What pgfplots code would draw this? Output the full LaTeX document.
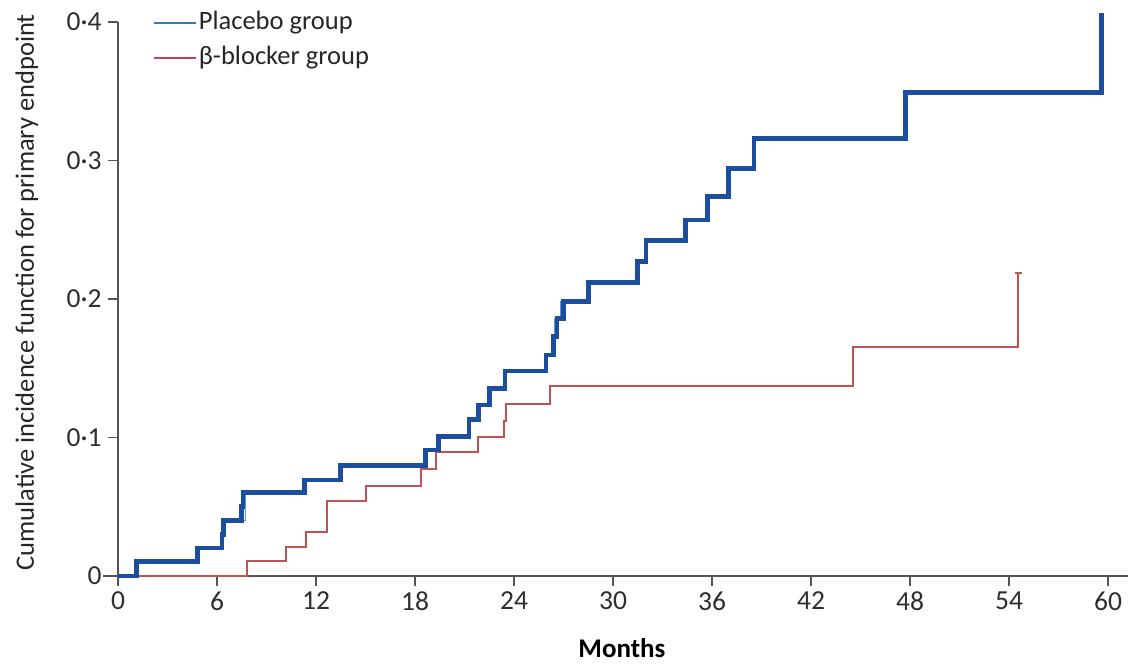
\documentclass[border=0pt]{standalone}
\usepackage{fontspec}
\setmainfont{Carlito}
\usepackage{pgfplots}
\pgfplotsset{compat=1.18}
\definecolor{thickblue}{RGB}{28,78,158}
\definecolor{thinblue}{RGB}{95,150,212}
\definecolor{redline}{RGB}{192,84,84}
\definecolor{legblue}{RGB}{50,120,195}
\definecolor{legred}{RGB}{200,60,90}
\definecolor{axisgray}{RGB}{85,85,85}
\begin{document}
\begin{tikzpicture}
\begin{axis}[
  scale only axis, width=990pt, height=554pt,
  xmin=0, xmax=60, ymin=0, ymax=0.4,
  axis lines=left,
  axis line style={-, draw=axisgray, line width=1.8pt},
  x axis line style={shorten <=-15pt, shorten >=-20pt},
  tick align=outside, major tick length=10pt,
  every tick/.style={draw=axisgray, line width=1.6pt},
  xtick={0,6,...,60}, xticklabels={0,6,12,18,24,30,36,42,48,54,60},
  ytick={0,0.1,0.2,0.3,0.4}, yticklabels={0,0·1,0·2,0·3,0·4},
  ticklabel style={font=\fontsize{27.5}{32}\selectfont, text=black!82},
  xticklabel style={yshift=-2pt},
  yticklabel style={xshift=-3pt},
  clip=false,
  xlabel={Months},
  ylabel={Cumulative incidence function for primary endpoint},
  xlabel style={font=\fontsize{27}{32}\selectfont\bfseries, at={(axis description cs:0.509,-0.131)}, anchor=center, inner sep=1pt},
  ylabel style={font=\fontsize{26.5}{30}\selectfont, text=black!85, at={(axis description cs:-0.092,0.512)}, anchor=center},
  legend style={draw=none, fill=none, at={(axis description cs:0.032,0.966)}, anchor=west,
    font=\fontsize{26.5}{30}\selectfont, text=black!85,
    nodes={inner sep=2pt, text height=18pt, text depth=6pt}, row sep=7pt},
  legend cell align=left,
  legend image code/.code={\draw[#1] (0pt,0pt) -- (42pt,0pt);},
]
% beta-blocker group
\addplot[redline, line width=2pt, const plot, mark=-, mark indices={14}, mark size=3.5pt, mark options={line width=2.5pt}, forget plot] coordinates {
(0,0) (7.84,0.0108) (10.18,0.0212) (11.4,0.032) (12.65,0.0544) (15.03,0.065)
(18.36,0.0773) (19.25,0.0893) (21.84,0.1001) (23.4,0.112) (23.5,0.124)
(26.2,0.137) (44.56,0.165) (54.57,0.2186)
};
% placebo thin
\addplot[thinblue, line width=1.5pt, const plot, forget plot] coordinates {
(0,0) (1.13,0.0103) (4.83,0.0202) (6.30,0.030) (6.52,0.040) (7.72,0.060)
(11.3,0.0693) (13.5,0.0797) (18.65,0.091) (19.42,0.1006) (21.27,0.113)
(21.84,0.1235) (22.5,0.1355) (23.45,0.148) (25.94,0.1596) (26.4,0.1728)
(26.45,0.186) (26.85,0.198) (28.5,0.212) (31.5,0.227) (32.0,0.242)
(34.4,0.257) (35.75,0.274) (37.0,0.294) (38.55,0.316) (47.75,0.349) (59.6,0.4065)
};
% placebo thick
\addplot[thickblue, line width=4.8pt, const plot, forget plot] coordinates {
(0,0) (1.13,0.0103) (4.83,0.0202) (6.30,0.030) (6.38,0.040) (7.50,0.050) (7.58,0.060)
(11.3,0.0693) (13.5,0.0797) (18.65,0.091) (19.42,0.1006) (21.27,0.113)
(21.84,0.1235) (22.5,0.1355) (23.45,0.148) (25.94,0.1596) (26.4,0.1728)
(26.6,0.186) (27.0,0.198) (28.5,0.212) (31.5,0.227) (32.0,0.242)
(34.4,0.257) (35.75,0.274) (37.0,0.294) (38.55,0.316) (47.75,0.349) (59.6,0.4065)
};
\addlegendimage{legblue, line width=2pt}
\addlegendentry{Placebo group}
\addlegendimage{legred, line width=2pt}
\addlegendentry{β-blocker group}
\end{axis}
\pgfresetboundingbox
\path[use as bounding box] (-118pt,-90pt) rectangle (1010pt,576pt);
\end{tikzpicture}
\end{document}
